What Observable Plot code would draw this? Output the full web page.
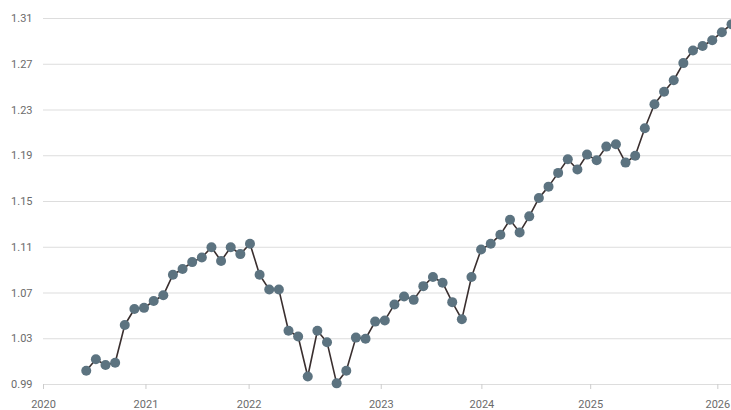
<!DOCTYPE html>
<html>
<head>
<meta charset="utf-8">
<script src="https://cdn.jsdelivr.net/npm/d3@7"></script>
<script src="https://cdn.jsdelivr.net/npm/@observablehq/plot@0.6"></script>
<style>
  html, body { margin: 0; padding: 0; background: #fff; }
  #chart svg { display: block; overflow: visible; }
</style>
</head>
<body>
<div id="chart"></div>
<script>
// Monthly observations, Jun 2020 – Jan 2026
const months = d3.utcMonth.range(new Date(Date.UTC(2020, 5, 1)), new Date(Date.UTC(2026, 1, 1)));
const values = [
  1.002, 1.012, 1.007, 1.009, 1.042, 1.056, 1.057, 1.063, 1.068,
  1.086, 1.091, 1.097, 1.101, 1.110, 1.098, 1.110, 1.104, 1.113,
  1.086, 1.073, 1.073, 1.037, 1.032, 0.997, 1.037, 1.027, 0.991,
  1.002, 1.031, 1.030, 1.045, 1.046, 1.060, 1.067, 1.064, 1.076,
  1.084, 1.079, 1.062, 1.047, 1.084, 1.108,
  1.113, 1.121, 1.134, 1.123, 1.137, 1.153, 1.163, 1.175, 1.187,
  1.178, 1.191, 1.186, 1.198, 1.200, 1.184, 1.190, 1.214, 1.235,
  1.246, 1.256, 1.271, 1.282, 1.286, 1.291, 1.298, 1.305
];
// Year tick labels and where they sit along the month sequence
const tickYears = ["2020", "2021", "2022", "2023", "2024", "2025", "2026"];
const tickPos = [-4.44, 6.20, 16.91, 30.63, 41.08, 52.38, 65.58];
const yTicks = [0.99, 1.03, 1.07, 1.11, 1.15, 1.19, 1.23, 1.27, 1.31];

const data = values.map((v, i) => ({i, date: months[i], value: v}));
const labelByPos = new Map(tickPos.map((p, k) => [p, tickYears[k]]));

const chart = Plot.plot({
  width: 731,
  height: 410,
  marginLeft: 43,
  marginRight: 0,
  marginTop: 18,
  marginBottom: 26,
  style: {fontFamily: "Roboto, 'DejaVu Sans', sans-serif", fontSize: "11px", color: "#6b6b6b", background: "#fff"},
  x: {domain: [-4.44, 67.0], axis: null, label: null},
  y: {domain: [0.99, 1.31], axis: null, label: null},
  marks: [
    Plot.ruleY(yTicks, {stroke: "#dddddd", strokeWidth: 1.2}),
    Plot.axisY({ticks: yTicks, label: null, tickSize: 0, tickPadding: 11, tickFormat: d3.format(".2f"), fill: "#6b6b6b", fontSize: 11}),
    Plot.axisX({ticks: tickPos, label: null, tickSize: 5, tickPadding: 11, stroke: "#cccccc", fill: "#6b6b6b", fontSize: 11, tickFormat: d => labelByPos.get(d)}),
    Plot.line(data, {x: "i", y: "value", stroke: "#3a2f2f", strokeWidth: 1.6}),
    Plot.dot(data, {x: "i", y: "value", r: 5, fill: "#5c7380", stroke: "none"})
  ]
});
document.getElementById("chart").appendChild(chart);
</script>
</body>
</html>
